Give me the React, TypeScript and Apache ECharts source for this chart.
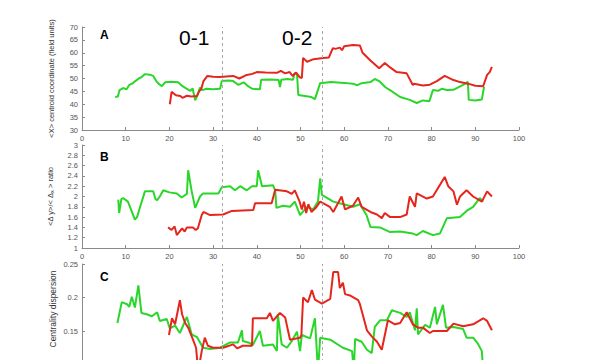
import React, { useEffect, useRef } from "react";
import * as echarts from "echarts";

// ---- Data ----
const xTicks = [0, 10, 20, 30, 40, 50, 60, 70, 80, 90, 100];
const phaseBoundaries = [32, 55];
const phaseLabels = ["0-1", "0-2"];
const panelLetters = ["A", "B", "C"];

// Panel A: <X> centroid coordinate
const centroidGreen = [[7.6,42.8],[8.2,43],[8.6,45.5],[9.4,46.3],[10.2,45.8],[10.8,47.5],[11.5,48],[12.2,49],[13,50],[13.6,50.5],[14.4,51.7],[15.5,51.5],[16.3,51],[17,49],[17.5,48],[18.3,47],[19,48.5],[20.5,48.7],[22,48.5],[23,47],[24,46],[24.8,45.2],[25.3,46.2],[25.9,41.5],[26.4,43.5],[27,46.5],[27.5,45.5],[28.5,46],[30,45.8],[31.6,46],[32,49],[33.5,49.2],[34.6,49],[35.8,47.5],[37,48.5],[38,47],[39,46],[40.7,45.8],[41,49.5],[43,49.6],[45,49.4],[45.3,46.7],[45.6,49.5],[47,49.8],[48.3,49.5],[48.6,52],[49.2,51.8],[49.5,43.6],[51,43.2],[52.5,42.8],[53.3,42],[54.5,48.2],[57,48.6],[60,48.3],[62,48],[63,47.4],[64,48.2],[66,48.6],[67,49.8],[68,49],[69.5,46.5],[70.5,45.5],[72.8,42.8],[75,41.7],[76.6,40.5],[78,41.5],[79.5,41.2],[80.3,45.5],[81.5,45.2],[82.3,46],[83.5,45.5],[85,45.6],[87.2,47.5],[88.3,48.7],[88.5,41.7],[90,41.5],[91.5,41.8],[92,46.8]];
const centroidRed = [[20.1,40],[20.5,44.8],[21.5,43.5],[22.5,43.2],[23,42.5],[24,43.3],[25,43],[26.3,43.2],[26.8,45],[27.3,46],[27.8,49],[28.7,51],[30,50.7],[31.5,50.6],[33,50.8],[34.6,51],[36,50],[37.7,51.4],[39,51.8],[40,52.5],[42,52.3],[44.6,52.2],[45.5,53],[46.5,52],[47.5,52.5],[48.2,51],[49,52.3],[49.8,50.5],[50.3,50.2],[50.6,58],[51.5,56.5],[53,57.5],[55.2,58],[56.5,58.2],[57.4,61.8],[58,61.5],[59,62],[59.5,61],[60,62.5],[62,63],[63.6,62.8],[64.2,60],[66,57],[68,54],[69.3,56],[70.5,54.3],[72,52.5],[74.3,52],[75.7,47.5],[76,48],[78,47.3],[79.6,47.6],[81.2,49],[83,51],[85,49.4],[86.5,48.6],[88.3,48],[90,47.2],[91.8,47],[92.7,51.4],[93.3,52.5],[93.8,54.5]];

// Panel B: <Δy>/<Δx> ratio
const ratioGreen = [[8.3,1.94],[8.5,1.68],[9,1.95],[9.4,1.97],[10.5,1.9],[11.2,1.75],[12.1,1.55],[12.6,1.6],[13.3,1.8],[14.4,2.1],[16.3,2.1],[16.8,1.95],[17.2,1.93],[17.8,2.0],[18.6,2.12],[20,2.08],[21.7,2.06],[22.8,1.98],[24,2.05],[24.3,2.51],[25.1,2.1],[25.9,1.78],[27,2.0],[27.7,2.06],[31.2,2.06],[32,2.18],[33.9,2.2],[35,2.12],[36.2,2.2],[37.7,2.12],[38.9,2.2],[40,2.2],[40.3,2.51],[41.2,2.2],[43.7,2.22],[44.2,2.12],[44.5,1.78],[46,1.82],[47.6,1.8],[48.7,1.9],[49.9,1.64],[50.5,1.7],[51.5,1.8],[52.9,1.75],[54,1.9],[54.5,2.35],[54.9,2.03],[57.5,1.9],[59.8,1.85],[62,1.8],[63.6,1.85],[65.1,1.64],[66,1.41],[68.2,1.4],[70.5,1.31],[72.8,1.32],[75.7,1.28],[76.6,1.25],[78,1.33],[80.3,1.25],[81.9,1.28],[83.5,1.58],[86.5,1.6],[88,1.72],[89.5,1.8],[91,1.97],[91.8,1.9]];
const ratioRed = [[19.7,1.4],[20.5,1.35],[21.2,1.42],[21.7,1.25],[22.9,1.38],[23.5,1.32],[24,1.4],[25.4,1.4],[26,1.35],[26.5,1.38],[27.4,1.64],[27.8,1.7],[29.3,1.64],[32.3,1.65],[34.3,1.72],[39.2,1.74],[39.6,1.87],[43.4,1.87],[44.2,2.13],[46.9,2.1],[48,2.05],[48.7,2.12],[49.8,1.9],[50.3,1.75],[50.8,1.9],[51.3,1.68],[51.8,1.85],[52.5,1.7],[53.5,1.78],[54.5,1.9],[56.7,1.8],[57.5,1.7],[59.4,2.0],[60.2,1.75],[62,1.82],[63.2,1.98],[64,1.8],[66,1.7],[67.5,1.65],[68.6,1.58],[69.3,1.68],[70.5,1.6],[72.8,1.6],[74.3,1.65],[75,2.0],[76.2,1.8],[76.6,2.06],[78.9,1.96],[80.3,2.0],[83,2.38],[83.8,2.2],[85,2.1],[85.8,1.84],[86.5,2.0],[88,2.12],[89.5,2.0],[91.5,1.9],[92.7,2.1],[93.8,2.0]];

// Panel C: centrality dispersion
const dispersionGreen = [[8.1,0.162],[9.1,0.193],[10.3,0.19],[10.8,0.186],[11.4,0.201],[12.1,0.185],[12.9,0.218],[13.6,0.177],[14.8,0.175],[16,0.172],[17.2,0.178],[17.8,0.165],[19.4,0.168],[20.1,0.154],[21.3,0.158],[22.4,0.147],[24,0.171],[25.1,0.145],[26.3,0.141],[27.7,0.125],[29.3,0.123],[31.6,0.125],[33.9,0.133],[35.7,0.133],[36.6,0.151],[36.8,0.135],[38.4,0.132],[39.1,0.129],[40.7,0.15],[41.4,0.128],[43.7,0.13],[44.6,0.12],[44.8,0.175],[45.7,0.13],[46.9,0.125],[48,0.135],[49.2,0.149],[49.9,0.12],[50.3,0.144],[52.2,0.139],[53.3,0.169],[54,0.09],[54.5,0.14],[56.8,0.137],[59.7,0.125],[61.8,0.12],[62.2,0.09],[62.5,0.138],[64,0.134],[65.2,0.122],[66.3,0.117],[67,0.156],[68.2,0.166],[69.8,0.166],[70.9,0.181],[72.8,0.177],[74.3,0.171],[75,0.178],[76.2,0.151],[76.6,0.184],[76.9,0.145],[78.5,0.159],[79.6,0.155],[80.8,0.186],[81.2,0.16],[82.6,0.189],[83.3,0.155],[85,0.156],[87.2,0.153],[88,0.14],[89.5,0.14],[90.6,0.131],[91.5,0.12],[91.7,0.1]];
const dispersionRed = [[19.9,0.144],[20.6,0.169],[21.3,0.16],[22.4,0.196],[22.9,0.175],[23.6,0.162],[24.3,0.155],[25.4,0.137],[26.1,0.125],[26.6,0.09],[27.4,0.12],[28.1,0.14],[28.8,0.128],[30,0.125],[32.3,0.125],[34.6,0.13],[35.5,0.124],[36.8,0.128],[38.9,0.128],[39.1,0.169],[42.3,0.169],[43,0.177],[43.7,0.165],[45.3,0.177],[46.5,0.17],[47.6,0.137],[49.9,0.14],[50.2,0.144],[50.6,0.2],[51.7,0.193],[52.6,0.211],[53.3,0.197],[54.9,0.191],[56.8,0.198],[57.5,0.238],[58.6,0.238],[59,0.214],[59.7,0.222],[60.2,0.205],[61.3,0.203],[63.2,0.196],[63.6,0.19],[65.2,0.151],[66.3,0.142],[67.5,0.134],[68.6,0.122],[69.3,0.144],[70,0.166],[71.6,0.16],[72.8,0.162],[74.3,0.178],[75.7,0.16],[76.9,0.155],[78,0.155],[79.6,0.147],[80.3,0.15],[83.5,0.15],[85,0.161],[87.2,0.157],[89.5,0.16],[91.8,0.169],[92.7,0.165],[93.8,0.151]];

const panels = [
  { name: "<X> centroid coordinate (field units)", min: 30, max: 70, interval: 5, green: centroidGreen, red: centroidRed },
  { name: "<Δ y>/< Δ{s|x} > ratio", min: 1, max: 3, interval: 0.2, green: ratioGreen, red: ratioRed },
  { name: "Centrality dispersion", min: 0.05, max: 0.25, interval: 0.05, green: dispersionGreen, red: dispersionRed },
];

const GREEN = "#2bd62b";
const RED = "#e5261d";
const AXIS = "#8a8a8a";
const LABEL = "#555";
const FONT = "Liberation Sans";

export default function App() {
  const ref = useRef<HTMLDivElement>(null);
  useEffect(() => {
    if (!ref.current) return;
    const chart = echarts.init(ref.current, undefined, { renderer: "svg" });
    const gridLayout = [
      { left: 82, width: 437, top: 27, height: 103, outerBoundsMode: "none", containLabel: false },
      { left: 82, width: 437, top: 145, height: 103, outerBoundsMode: "none", containLabel: false },
      { left: 82, width: 437, top: 264, height: 134, outerBoundsMode: "none", containLabel: false },
    ];
    const option: any = {
      animation: false,
      backgroundColor: "#fff",
      grid: gridLayout,
      xAxis: panels.map((_, i) => ({
        type: "value",
        gridIndex: i,
        min: xTicks[0],
        max: xTicks[xTicks.length - 1],
        interval: 10,
        axisLine: { lineStyle: { color: AXIS, width: 1 } },
        axisTick: { inside: true, length: 3, lineStyle: { color: AXIS } },
        axisLabel: { show: i < 2, fontSize: 7.5, color: LABEL, margin: 4, fontFamily: FONT },
        splitLine: { show: false },
      })),
      yAxis: panels.map((p, i) => ({
        type: "value",
        gridIndex: i,
        min: p.min,
        max: p.max,
        interval: p.interval,
        name: i < 2 ? p.name : "",
        nameLocation: "middle",
        nameGap: 27,
        nameTextStyle: {
          fontSize: 7.5,
          color: "#333",
          fontFamily: FONT,
          rich: { s: { fontSize: 5.5, color: "#333", fontFamily: FONT, verticalAlign: "bottom", padding: [4, 0, 0, 0] } },
        },
        axisLine: { show: true, lineStyle: { color: AXIS, width: 1 } },
        axisTick: { show: true, inside: true, length: 3, lineStyle: { color: AXIS } },
        axisLabel: {
          fontSize: 7.5,
          color: LABEL,
          margin: 4,
          fontFamily: FONT,
          formatter: (v: number) => (i === 2 && v < 0.14 ? "" : String(Math.round(v * 100) / 100)),
        },
        splitLine: { show: false },
      })),
      series: panels.flatMap((p, i) => [
        {
          type: "line",
          xAxisIndex: i,
          yAxisIndex: i,
          data: p.green,
          showSymbol: false,
          lineStyle: { color: GREEN, width: 2 },
          itemStyle: { color: GREEN },
          markLine: {
            silent: true,
            symbol: "none",
            label: { show: false },
            lineStyle: { color: "#a8a8a8", type: [3, 3], width: 1 },
            data: phaseBoundaries.map((b) => ({ xAxis: b })),
          },
        },
        {
          type: "line",
          xAxisIndex: i,
          yAxisIndex: i,
          data: p.red,
          showSymbol: false,
          lineStyle: { color: RED, width: 2 },
          itemStyle: { color: RED },
        },
      ]),
      graphic: [
        { type: "text", left: 100, top: 29, style: { text: panelLetters[0], font: `bold 12px ${FONT}`, fill: "#000" } },
        { type: "text", left: 100, top: 151, style: { text: panelLetters[1], font: `bold 12px ${FONT}`, fill: "#000" } },
        { type: "text", left: 100, top: 271, style: { text: panelLetters[2], font: `bold 12px ${FONT}`, fill: "#000" } },
        { type: "text", left: 179, top: 27, style: { text: phaseLabels[0], font: `21px ${FONT}`, fill: "#000" } },
        { type: "text", left: 282, top: 27, style: { text: phaseLabels[1], font: `21px ${FONT}`, fill: "#000" } },
        {
          type: "text",
          x: 53,
          y: 309,
          rotation: Math.PI / 2,
          style: { text: panels[2].name, font: `8.5px ${FONT}`, fill: "#333", align: "center", verticalAlign: "middle" },
        },
      ],
    };
    chart.setOption(option);
    return () => chart.dispose();
  }, []);
  return (
    <div
      ref={ref}
      style={{ position: "absolute", left: 0, top: 0, width: 594, height: 360 }}
    />
  );
}
